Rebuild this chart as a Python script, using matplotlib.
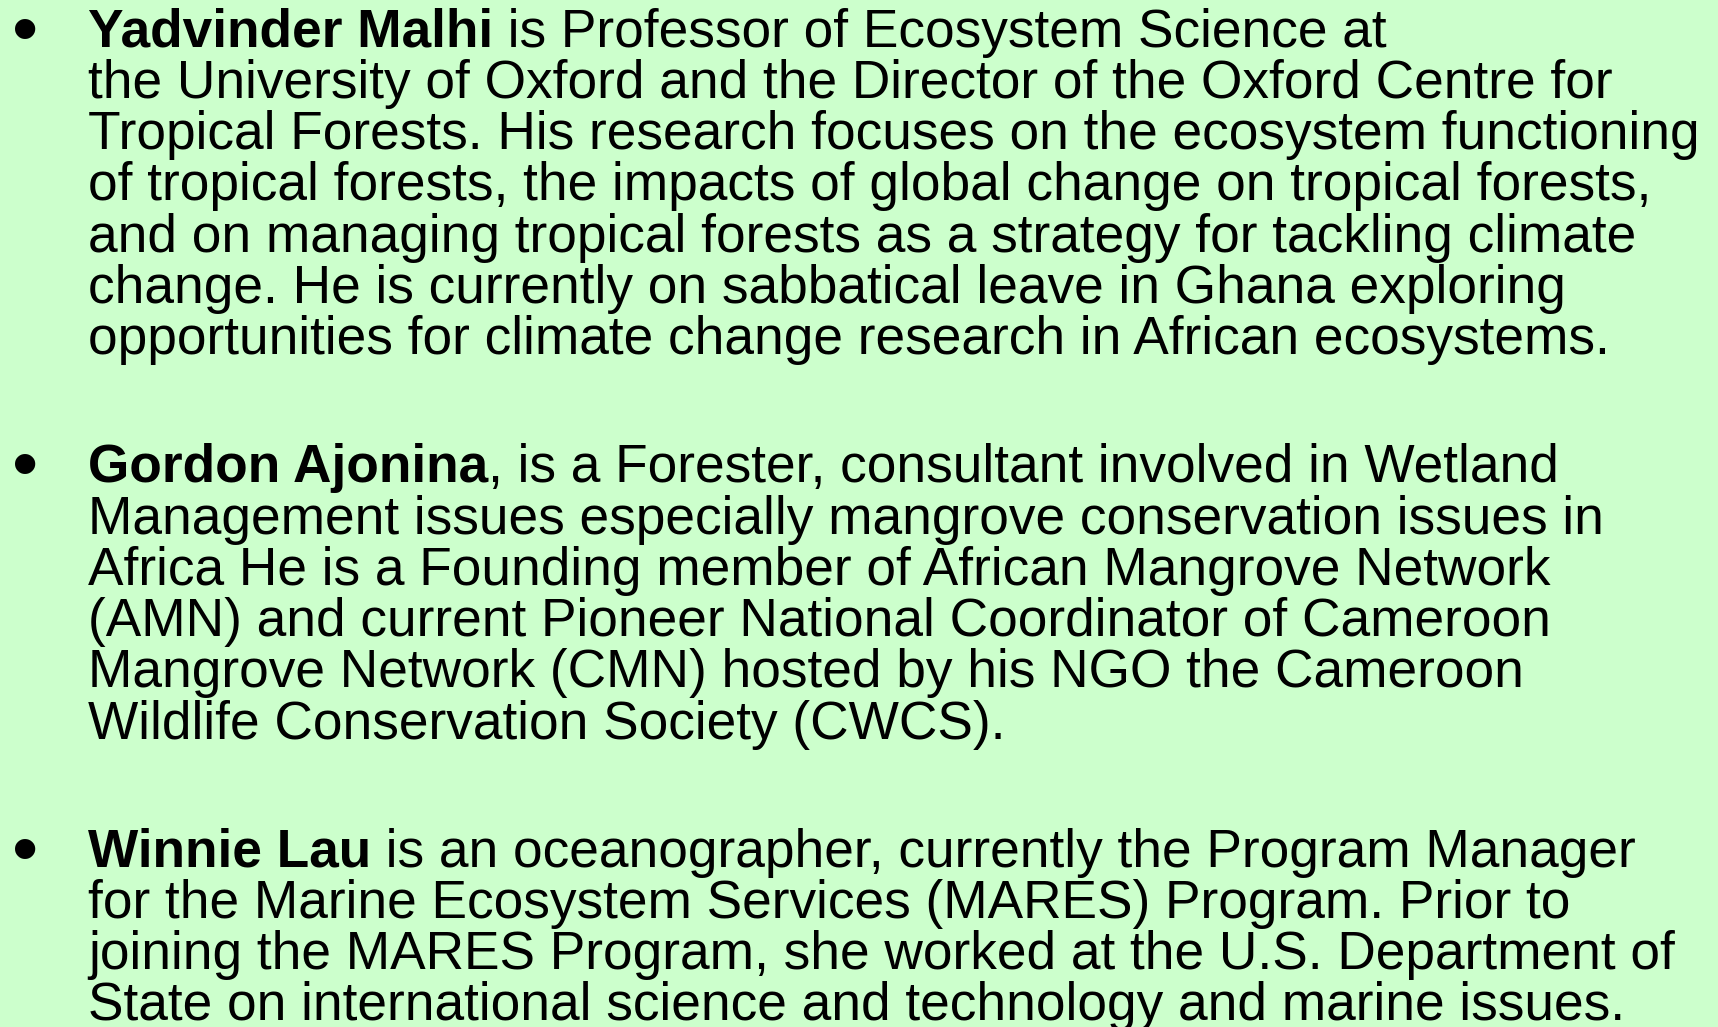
import matplotlib
matplotlib.use("Agg")
import matplotlib.pyplot as plt

# bio entries: bold name, rest of first line, following lines
names = ["Yadvinder Malhi", "Gordon Ajonina", "Winnie Lau"]
first_rest = [
    " is Professor of Ecosystem Science at",
    ", is a Forester, consultant involved in Wetland",
    " is an oceanographer, currently the Program Manager",
]
more_lines = [
    [
        "the University of Oxford and the Director of the Oxford Centre for",
        "Tropical Forests. His research focuses on the ecosystem functioning",
        "of tropical forests, the impacts of global change on tropical forests,",
        "and on managing tropical forests as a strategy for tackling climate",
        "change. He is currently on sabbatical leave in Ghana exploring",
        "opportunities for climate change research in African ecosystems.",
    ],
    [
        "Management issues especially mangrove conservation issues in",
        "Africa He is a Founding member of African Mangrove Network",
        "(AMN) and current Pioneer National Coordinator of Cameroon",
        "Mangrove Network (CMN) hosted by his NGO the Cameroon",
        "Wildlife Conservation Society (CWCS).",
    ],
    [
        "for the Marine Ecosystem Services (MARES) Program. Prior to",
        "joining the MARES Program, she worked at the U.S. Department of",
        "State on international science and technology and marine issues.",
    ],
]
# line index where each bullet starts
para_start = [0, 8.5, 16]

W, H = 1718, 1027
bg = "#ccffcc"
fs = 38.3
line_h = 51.25
top = 46.7
x_bullet = 25
x_text = 88

fig = plt.figure(figsize=(W / 100, H / 100), dpi=100, facecolor=bg)
ax = fig.add_axes([0, 0, 1, 1])
ax.set_xlim(0, W)
ax.set_ylim(H, 0)
ax.axis("off")
ax.set_facecolor(bg)

font = dict(family="Liberation Sans", fontsize=fs, color="black", va="baseline")

fig.canvas.draw()
renderer = fig.canvas.get_renderer()

for k in range(len(names)):
    y = top + para_start[k] * line_h
    # bigger bullet, nudged down so it sits like the original one
    ax.text(x_bullet, y + 7, "\u2022", family="Liberation Sans",
            fontsize=fs * 1.4, color="black", ha="center", va="baseline")
    t = ax.text(x_text, y, names[k], fontweight="bold", **font)
    bb = t.get_window_extent(renderer=renderer)
    x_rest = x_text + bb.width
    ax.text(x_rest, y, first_rest[k], **font)
    for j, line in enumerate(more_lines[k]):
        ax.text(x_text, y + (j + 1) * line_h, line, **font)

fig.savefig("out.png", dpi=100, facecolor=bg)
